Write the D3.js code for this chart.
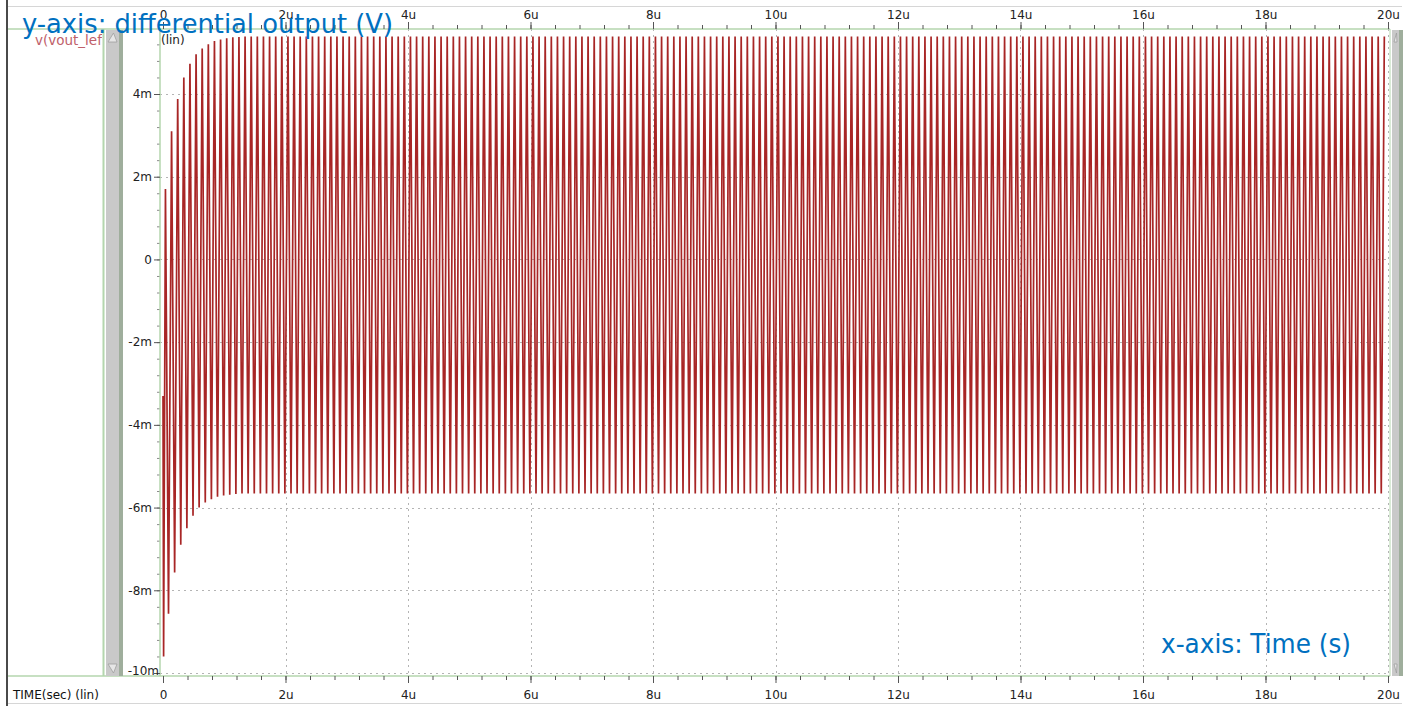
<!DOCTYPE html>
<html>
<head>
<meta charset="utf-8">
<script src="https://cdn.jsdelivr.net/npm/d3@7"></script>
<style>
  html, body { margin: 0; padding: 0; background: #fff; }
  svg { display: block; }
  text { font-family: "DejaVu Sans", sans-serif; }
</style>
</head>
<body>
<svg id="chart" width="1418" height="706"></svg>
<script>
// ---- axis ticks (time in µs, voltage in mV) ----
const xTickValues = [0, 2, 4, 6, 8, 10, 12, 14, 16, 18, 20];
const xTickLabels = ["0", "2u", "4u", "6u", "8u", "10u", "12u", "14u", "16u", "18u", "20u"];
const yTickValues = [4, 2, 0, -2, -4, -6, -8, -10];
const yTickLabels = ["4m", "2m", "0", "-2m", "-4m", "-6m", "-8m", "-10m"];
const traceName = "v(vout_left)";

// ---- waveform: per-cycle peaks (mV) while the oscillation settles ----
const startValue = -3.3;
const settleHigh = [1.7, 3.1, 3.88, 4.4, 4.73, 4.96, 5.1, 5.2, 5.28, 5.32, 5.35, 5.37, 5.38];
const settleLow  = [-9.6, -8.57, -7.57, -6.9, -6.5, -6.2, -6.0, -5.88, -5.8, -5.74, -5.71, -5.69, -5.67];
// settled swing after ~1.3 µs
const steadyHigh = 5.39;
const steadyLow = -5.66;
const cyclePeriod = 0.1;   // µs (≈10 MHz)
const firstTrough = 0.01;  // µs
const peakOffset = 0.04;   // µs, first maximum
const troughOffset = 0.09; // µs, second minimum

const svg = d3.select("#chart");
const W = 1418, H = 706;

const x = d3.scaleLinear().domain([0, 20]).range([163, 1388]);
const y = d3.scaleLinear().domain([-10, 4]).range([673, 94]);

const plotLeft = 160, plotRight = 1390, plotTop = 29, plotBottom = 676;
const green = "#b4d6ae";

// ---- frame ----
svg.append("rect").attr("x", 0).attr("y", 0).attr("width", W).attr("height", H).attr("fill", "#fff");
svg.append("line").attr("x1", 7).attr("x2", 7).attr("y1", 0).attr("y2", H)
  .attr("stroke", "#4a4a4a").attr("stroke-width", 2);
svg.append("line").attr("x1", 8).attr("x2", 1402).attr("y1", 6.5).attr("y2", 6.5)
  .attr("stroke", "#d6d6d6").attr("stroke-width", 1);
svg.append("line").attr("x1", 8).attr("x2", 1402).attr("y1", 703.5).attr("y2", 703.5)
  .attr("stroke", "#d6d6d6").attr("stroke-width", 1);
svg.append("line").attr("x1", 8).attr("x2", plotRight).attr("y1", plotTop).attr("y2", plotTop)
  .attr("stroke", green).attr("stroke-width", 1.5);
svg.append("line").attr("x1", 8).attr("x2", plotRight).attr("y1", plotBottom).attr("y2", plotBottom)
  .attr("stroke", green).attr("stroke-width", 1.5);

// trace list panel
svg.append("line").attr("x1", 103.5).attr("x2", 103.5).attr("y1", plotTop).attr("y2", plotBottom)
  .attr("stroke", green).attr("stroke-width", 2);
svg.append("clipPath").attr("id", "nameClip").append("rect")
  .attr("x", 8).attr("y", plotTop).attr("width", 94).attr("height", 40);
svg.append("text").attr("x", 35).attr("y", 45).attr("font-size", 13.5).attr("fill", "#c0606a")
  .attr("clip-path", "url(#nameClip)").text(traceName);

// vertical scroll bars
function scrollBar(x0, w) {
  const g = svg.append("g");
  g.append("rect").attr("x", x0).attr("y", plotTop + 1).attr("width", w).attr("height", plotBottom - plotTop - 1)
    .attr("fill", "#c9c9c9");
  g.append("rect").attr("x", x0 + w - 4).attr("y", plotTop + 1).attr("width", 4).attr("height", plotBottom - plotTop - 1)
    .attr("fill", "#9fae9c");
  g.append("path")
    .attr("d", `M${x0 + 2},${plotTop + 13} L${x0 + (w - 4) / 2 + 1},${plotTop + 4} L${x0 + w - 6},${plotTop + 13} Z`)
    .attr("fill", "#e6e6e6").attr("stroke", "#a0a0a0").attr("stroke-width", 0.8);
  g.append("path")
    .attr("d", `M${x0 + 2},${plotBottom - 12} L${x0 + (w - 4) / 2 + 1},${plotBottom - 3} L${x0 + w - 6},${plotBottom - 12} Z`)
    .attr("fill", "#e6e6e6").attr("stroke", "#a0a0a0").attr("stroke-width", 0.8);
}
scrollBar(106, 17);
scrollBar(1392, 11);

// ---- grid ----
const grid = svg.append("g").attr("stroke", "#b4b4b4").attr("stroke-width", 1).attr("stroke-dasharray", "2,4");
grid.selectAll("line.v").data(xTickValues.filter(d => d > 0)).join("line")
  .attr("x1", d => Math.round(x(d)) + 0.5).attr("x2", d => Math.round(x(d)) + 0.5)
  .attr("y1", plotTop).attr("y2", plotBottom);
grid.selectAll("line.h").data(yTickValues).join("line")
  .attr("x1", plotLeft).attr("x2", plotRight)
  .attr("y1", d => Math.round(y(d)) + 0.5).attr("y2", d => Math.round(y(d)) + 0.5);

// ---- waveform ----
const samples = [[0, startValue]];
for (let k = 0; k < 200; k++) {
  const tLow = k === 0 ? firstTrough : troughOffset + (k - 1) * cyclePeriod;
  const tHigh = peakOffset + k * cyclePeriod;
  if (tLow <= 20) samples.push([tLow, k < settleLow.length ? settleLow[k] : steadyLow]);
  if (tHigh <= 20) samples.push([tHigh, k < settleHigh.length ? settleHigh[k] : steadyHigh]);
}
svg.append("clipPath").attr("id", "plotClip").append("rect")
  .attr("x", plotLeft + 1).attr("y", plotTop + 1).attr("width", plotRight - plotLeft - 1)
  .attr("height", plotBottom - plotTop - 1);
svg.append("path")
  .datum(samples)
  .attr("clip-path", "url(#plotClip)")
  .attr("fill", "none")
  .attr("stroke", "#a82626")
  .attr("stroke-width", 1.7)
  .attr("stroke-linejoin", "miter")
  .attr("stroke-miterlimit", 2)
  .attr("d", d3.line().x(d => x(d[0])).y(d => y(d[1])));

// ---- axes ----
function styleAxis(g) {
  g.select(".domain").attr("stroke", green).attr("stroke-width", 1.5);
  g.selectAll(".tick line").attr("stroke", "#555");
  g.selectAll(".tick text").attr("font-family", "DejaVu Sans, sans-serif").attr("font-size", 12).attr("fill", "#222");
}
const minorX = d3.range(0, 20.001, 0.4).map(d => +d.toFixed(1));
const minorY = d3.range(-10, 5.201, 0.4).map(d => +d.toFixed(1));

// left axis
svg.append("g").attr("transform", `translate(${plotLeft},0)`)
  .call(d3.axisLeft(y).tickValues(minorY).tickSize(3).tickFormat(""))
  .call(g => { g.select(".domain").remove(); g.selectAll(".tick line").attr("stroke", "#8a8a8a"); });
svg.append("g").attr("transform", `translate(${plotLeft},0)`)
  .call(d3.axisLeft(y).tickValues(yTickValues).tickSize(6).tickPadding(2)
    .tickFormat((d, i) => yTickLabels[i]))
  .call(styleAxis)
  .call(g => g.select(".domain").attr("d", `M0,${plotTop}V${plotBottom}`))
  .call(g => g.selectAll(".tick text").filter(d => d === -10).attr("x", -1).attr("dy", "0.1em"));

// top and bottom time axes
[[plotTop, d3.axisTop, 18.5], [plotBottom, d3.axisBottom, 698.5]].forEach(([pos, axisFn, baseline]) => {
  svg.append("g").attr("transform", `translate(0,${pos})`)
    .call(axisFn(x).tickValues(minorX).tickSize(4).tickFormat(""))
    .call(g => { g.select(".domain").remove(); g.selectAll(".tick line").attr("stroke", "#555"); });
  const ax = svg.append("g").attr("transform", `translate(0,${pos})`)
    .call(axisFn(x).tickValues(xTickValues).tickSize(7).tickFormat((d, i) => xTickLabels[i]))
    .call(styleAxis);
  ax.select(".domain").remove();
  ax.selectAll(".tick text").attr("y", baseline - pos).attr("dy", null);
});

// right border of the plot
svg.append("line").attr("x1", plotRight).attr("x2", plotRight).attr("y1", plotTop).attr("y2", plotBottom)
  .attr("stroke", green).attr("stroke-width", 1);

svg.append("text").attr("x", 161).attr("y", 44).attr("font-size", 12).attr("fill", "#222").text("(lin)");
svg.append("text").attr("x", 13).attr("y", 698.5).attr("font-size", 12).attr("fill", "#111").text("TIME(sec) (lin)");

// ---- axis captions ----
svg.append("text").attr("x", 22).attr("y", 33)
  .attr("font-family", "Lato, 'Open Sans', sans-serif").attr("font-size", 27).attr("fill", "#0070c0")
  .attr("textLength", 371).attr("lengthAdjust", "spacingAndGlyphs")
  .text("y-axis: differential output (V)");
svg.append("text").attr("x", 1161).attr("y", 653)
  .attr("font-family", "Lato, 'Open Sans', sans-serif").attr("font-size", 27).attr("fill", "#0070c0")
  .attr("textLength", 190).attr("lengthAdjust", "spacingAndGlyphs")
  .text("x-axis: Time (s)");
</script>
</body>
</html>
